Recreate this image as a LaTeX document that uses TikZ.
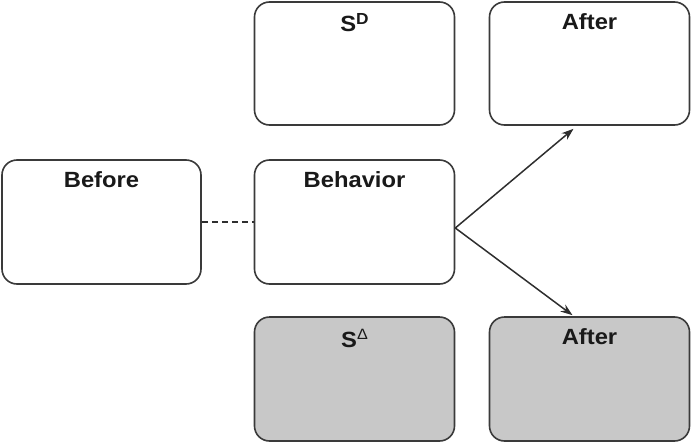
\documentclass[tikz,border=0pt]{standalone}
\usepackage{fontspec}
\setmainfont{Liberation Sans}
\usetikzlibrary{arrows.meta}
\definecolor{edge}{HTML}{3A3A3A}
\definecolor{shade}{HTML}{C8C8C8}
\newcommand{\boxlbl}[1]{\scalebox{1.08}[1]{\fontsize{22}{25}\selectfont\bfseries #1}}
\begin{document}
\begin{tikzpicture}[x=1pt,y=-1pt,
  cbox/.style={draw=edge, line width=1.6pt, rounded corners=15pt, fill=white,
    minimum width=200pt, minimum height=123pt, inner sep=0pt},
  gbox/.style={cbox, fill=shade},
  ttl/.style={anchor=north, inner sep=0pt, yshift=-12.5pt, text=black!90},
  conn/.style={draw=edge!80!black, line width=1.5pt},
  arr/.style={conn, -{Stealth[length=12pt,width=8.5pt]}}]
\useasboundingbox (0,0) rectangle (691,442);
\node[cbox, minimum width=199pt, minimum height=124pt] (before) at (101.5,222) {};
\node[ttl] at (before.north) {\boxlbl{Before}};
\node[cbox, minimum height=124pt] (behavior) at (354.5,222) {};
\node[ttl] at (behavior.north) {\boxlbl{Behavior}};
\node[cbox] (sd) at (354.5,63.5) {};
\node[ttl] at (sd.north) {\boxlbl{S\raisebox{0.3em}{\fontsize{16}{18}\selectfont D}}};
\node[cbox] (aftertop) at (589.5,63.5) {};
\node[ttl] at (aftertop.north) {\boxlbl{After}};
\node[gbox, minimum height=124pt] (sdelta) at (354.5,379) {};
\node[ttl] at (sdelta.north) {\boxlbl{S\raisebox{0.36em}{\fontsize{15}{17}\selectfont\mdseries Δ}}};
\node[gbox, minimum height=124pt] (afterbot) at (589.5,379) {};
\node[ttl] at (afterbot.north) {\boxlbl{After}};
\draw[conn, dashed, dash pattern=on 6pt off 4pt] (before.east) -- (behavior.west);
\coordinate (fork) at ([yshift=-6pt]behavior.east);
\draw[arr] (fork) -- ([xshift=-16pt,yshift=-3pt]aftertop.south);
\draw[arr] (fork) -- ([xshift=-17pt,yshift=1pt]afterbot.north);
\end{tikzpicture}
\end{document}
